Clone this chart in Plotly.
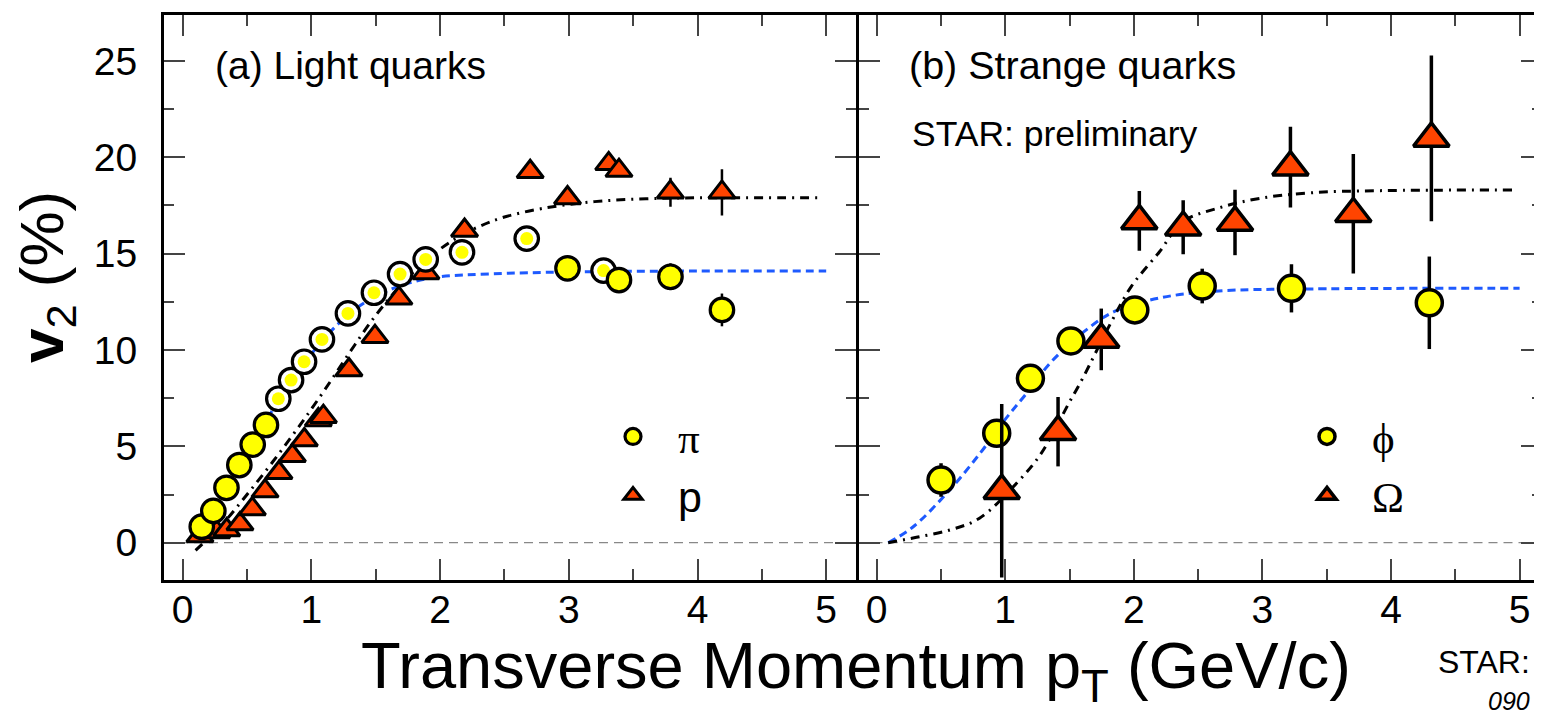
import plotly.graph_objects as go

# ---------------- data ----------------
# (a) light quarks: pions (two pion sets) and protons
pi_full_pt = [0.148, 0.238, 0.34, 0.44, 0.544, 0.647, 2.99, 3.39, 3.79, 4.19]
pi_full_v2 = [0.83, 1.65, 2.85, 4.03, 5.09, 6.11, 14.24, 13.63, 13.8, 12.08]
pi_full_err = [0, 0, 0, 0, 0, 0, 0, 0, 0.7, 0.85]

pi_ring_pt = [0.743, 0.842, 0.943, 1.082, 1.284, 1.486, 1.689, 1.888, 2.17, 2.673, 3.27]
pi_ring_v2 = [7.47, 8.44, 9.39, 10.55, 11.9, 12.97, 13.94, 14.7, 15.07, 15.78, 14.12]
pi_ring_err = [0, 0, 0, 0, 0, 0, 0, 0, 0, 0, 0.65]

p_pt = [0.134, 0.264, 0.342, 0.445, 0.541, 0.64, 0.748, 0.852, 0.945, 1.054, 1.093,
        1.292, 1.494, 1.68, 1.89, 2.19, 2.70, 2.99, 3.31, 3.39, 3.79, 4.19]
p_v2 = [0.35, 0.55, 0.66, 0.97, 1.75, 2.68, 3.63, 4.51, 5.33, 6.37, 6.54,
        8.96, 10.69, 12.68, 14.0, 16.2, 19.25, 17.89, 19.66, 19.31, 18.19, 18.18]
p_err = [0] * 20 + [0.75, 1.2]

# fit curves (a)
fit_pi_pt = [0.12, 0.2, 0.3, 0.4, 0.5, 0.6, 0.7, 0.8, 0.9, 1.0, 1.2, 1.4, 1.6, 1.8, 2.0, 2.4, 3.0, 4.0, 5.0]
fit_pi_v2 = [0.0, 1.1, 2.4, 3.6, 4.7, 5.8, 6.9, 7.9, 8.9, 9.8, 11.3, 12.4, 13.1, 13.55, 13.8, 13.95, 14.05, 14.1, 14.1]
fit_p_pt = [0.1, 0.3, 0.5, 0.7, 0.9, 1.1, 1.3, 1.5, 1.7, 1.9, 2.1, 2.3, 2.5, 2.8, 3.2, 3.6, 4.0, 4.93]
fit_p_v2 = [-0.4, 0.9, 2.5, 4.2, 6.0, 7.9, 9.9, 11.8, 13.4, 14.7, 15.7, 16.4, 16.9, 17.35, 17.7, 17.85, 17.9, 17.9]

# (b) strange quarks: phi and Omega
phi_pt = [0.501, 0.934, 1.196, 1.511, 2.008, 2.532, 3.226, 4.298]
phi_v2 = [3.25, 5.68, 8.53, 10.47, 12.08, 13.32, 13.2, 12.45]
phi_err = [0.87, 0, 0, 0, 0, 0.9, 1.25, 2.4]

om_pt = [0.973, 1.411, 1.747, 2.043, 2.384, 2.787, 3.218, 3.707, 4.314]
om_v2 = [2.7, 5.76, 10.55, 16.7, 16.37, 16.62, 19.49, 17.07, 20.98]
om_err = [4.5, 1.8, 1.6, 1.55, 1.4, 1.7, 2.1, 3.1, 4.3]

# fit curves (b)
fit_phi_pt = [0.09, 0.28, 0.55, 0.8, 1.0, 1.16, 1.36, 1.66, 1.85, 2.2, 2.63, 3.38, 5.0]
fit_phi_v2 = [0.0, 0.8, 2.6, 4.6, 6.4, 7.7, 9.4, 11.2, 12.0, 12.7, 13.05, 13.17, 13.2]
fit_om_pt = [0.09, 0.31, 0.57, 0.8, 1.1, 1.28, 1.5, 1.6, 1.82, 1.98, 2.2, 2.38, 2.65, 2.98, 3.38, 3.92, 4.95]
fit_om_v2 = [0.0, 0.28, 0.66, 1.27, 3.17, 4.64, 7.3, 8.5, 11.39, 13.29, 15.1, 16.66, 17.35, 17.87, 18.16, 18.27, 18.3]

x_ticks = [0, 1, 2, 3, 4, 5]
y_ticks = [0, 5, 10, 15, 20, 25]

# ---------------- styling / layout ----------------
SANS = "Liberation Sans, Arial, Helvetica, sans-serif"
SERIF = "Liberation Serif, Times New Roman, serif"
YELLOW = "#FFFF00"
ORANGE = "#FF4400"
BLUE = "#1E5AFF"

OFF = 8  # default page (body) margin of the html page
PAGE_W, PAGE_H = 1542, 715
W_FIG, H_FIG = PAGE_W - OFF, PAGE_H - OFF
FIG_BOTTOM = OFF + H_FIG                         # page y where the figure ends
VIS_RIGHT = 1532                                 # rightmost fully visible page column
# plot-area edges in page pixels
PL, PR, PT, PB = 164, 1542, 15, 580
PW, PH = PR - PL, PB - PT


def px2x(px):
    return (px - PL) / PW


def py2y(py):
    return (PB - py) / PH


D1 = px2x(855.5)
D2 = px2x(858.5)

fig = go.Figure()


def err(vals, w):
    return dict(type="data", array=vals, visible=True, color="black", thickness=w, width=0)


# ---- panel (a)
fig.add_trace(go.Scatter(x=fit_pi_pt, y=fit_pi_v2, mode="lines", line=dict(color=BLUE, width=3, dash="8px,5px", shape="spline"),
                         showlegend=False, xaxis="x", yaxis="y", hoverinfo="skip"))
fig.add_trace(go.Scatter(x=fit_p_pt, y=fit_p_v2, mode="lines", line=dict(color="black", width=3, dash="9px,6px,2px,6px", shape="spline"),
                         showlegend=False, xaxis="x", yaxis="y", hoverinfo="skip"))
fig.add_trace(go.Scatter(x=p_pt, y=p_v2, mode="markers", name="<span style='font-family:Liberation Sans'>p</span>",
                         marker=dict(symbol="triangle-up", size=23, color=ORANGE, line=dict(color="black", width=3)),
                         error_y=err(p_err, 2.5), xaxis="x", yaxis="y", legend="legend", legendrank=2))
fig.add_trace(go.Scatter(x=pi_ring_pt, y=pi_ring_v2, mode="markers", showlegend=False,
                         marker=dict(symbol="circle", size=23.5, color="white", line=dict(color="black", width=3.2)),
                         error_y=err(pi_ring_err, 2.5), xaxis="x", yaxis="y"))
fig.add_trace(go.Scatter(x=pi_ring_pt, y=pi_ring_v2, mode="markers", showlegend=False,
                         marker=dict(symbol="circle", size=13, color=YELLOW, line=dict(width=0)),
                         xaxis="x", yaxis="y"))
fig.add_trace(go.Scatter(x=pi_full_pt, y=pi_full_v2, mode="markers", name="π",
                         marker=dict(symbol="circle", size=23.5, color=YELLOW, line=dict(color="black", width=3.2)),
                         error_y=err(pi_full_err, 2.5), xaxis="x", yaxis="y", legend="legend", legendrank=1))

# ---- panel (b)
fig.add_trace(go.Scatter(x=fit_phi_pt, y=fit_phi_v2, mode="lines", line=dict(color=BLUE, width=3, dash="8px,5px", shape="spline"),
                         showlegend=False, xaxis="x2", yaxis="y2", hoverinfo="skip"))
fig.add_trace(go.Scatter(x=fit_om_pt, y=fit_om_v2, mode="lines", line=dict(color="black", width=3, dash="9px,6px,2px,6px", shape="spline"),
                         showlegend=False, xaxis="x2", yaxis="y2", hoverinfo="skip"))
fig.add_trace(go.Scatter(x=phi_pt, y=phi_v2, mode="markers", name="ϕ",
                         marker=dict(symbol="circle", size=26, color=YELLOW, line=dict(color="black", width=3.5)),
                         error_y=err(phi_err, 3.5), xaxis="x2", yaxis="y2", legend="legend2", legendrank=1))
fig.add_trace(go.Scatter(x=om_pt, y=om_v2, mode="markers", name="Ω",
                         marker=dict(symbol="triangle-up", size=31, color=ORANGE, line=dict(color="black", width=3.5)),
                         error_y=err(om_err, 3.5), xaxis="x2", yaxis="y2", legend="legend2", legendrank=2))

tickfont = dict(family=SANS, size=39, color="black")
common_x = dict(tickmode="array", tickvals=x_ticks, ticks="inside", ticklen=21, tickwidth=1.5, tickcolor="#444",
                minor=dict(dtick=0.5, tick0=0, ticks="inside", ticklen=11, tickwidth=1.5, tickcolor="#444"),
                showgrid=False, zeroline=False, tickfont=tickfont, ticklabelstandoff=-7)
common_y = dict(tickmode="array", tickvals=y_ticks, ticks="inside", ticklen=21, tickwidth=1.5, tickcolor="#444",
                minor=dict(dtick=2.5, tick0=0, ticks="inside", ticklen=10, tickwidth=1.5, tickcolor="#444"),
                showgrid=False, zeroline=False, tickfont=tickfont, range=[(542.7 - PB) / 19.27, (542.7 - PT) / 19.27])

fig.update_layout(
    width=W_FIG, height=H_FIG,
    margin=dict(l=PL - OFF, r=PAGE_W - PR, t=PT - OFF, b=FIG_BOTTOM - PB, pad=0),
    paper_bgcolor="white", plot_bgcolor="white",
    font=dict(family=SANS, color="black"),
    xaxis=dict(domain=[0, D1], range=[(PL - 182.7) / 128.7, (855.5 - 182.7) / 128.7], anchor="y",
               showline=True, linewidth=3, linecolor="black", mirror="ticks", **common_x),
    yaxis=dict(domain=[0, 1], anchor="x", showline=True, linewidth=3, linecolor="black", mirror="ticks",
               ticklabelstandoff=16, **common_y),
    xaxis2=dict(domain=[D2, 1], range=[(858.5 - 876.6) / 128.6, (PR - 876.6) / 128.6], anchor="y2",
                showline=True, linewidth=3, linecolor="black", mirror="ticks", **common_x),
    yaxis2=dict(domain=[0, 1], anchor="x2", showline=False, mirror="ticks", showticklabels=False, **common_y),
    legend=dict(x=px2x(588), y=py2y(402), xanchor="left", yanchor="top", bgcolor="rgba(0,0,0,0)",
                font=dict(family=SERIF, size=43, color="black"), itemwidth=80, tracegroupgap=0),
    legend2=dict(x=px2x(1282), y=py2y(402), xanchor="left", yanchor="top", bgcolor="rgba(0,0,0,0)",
                 font=dict(family=SERIF, size=43, color="black"), itemwidth=80, tracegroupgap=0),
    showlegend=True,
)

# zero reference lines
for xr, yr in (("x domain", "y"), ("x2 domain", "y2")):
    fig.add_shape(type="line", xref=xr, yref=yr, x0=0, x1=1, y0=0, y1=0, layer="below",
                  line=dict(color="#888", width=1.3, dash="9px,6px"))

ann = [
    dict(text="(a) Light quarks", x=px2x(213), y=py2y(65), xanchor="left", yanchor="middle", font=dict(size=39)),
    dict(text="(b) Strange quarks", x=px2x(907), y=py2y(65), xanchor="left", yanchor="middle", font=dict(size=39.5)),
    dict(text="STAR: preliminary", x=px2x(910), y=py2y(134), xanchor="left", yanchor="middle", font=dict(size=35.5)),
    dict(text="Transverse Momentum p<sub>T</sub> (GeV/c)", x=px2x(856), y=py2y(670), xanchor="center", yanchor="middle",
         font=dict(size=65)),
    dict(text="<b>v</b><sub>2</sub> (%)", x=px2x(46), y=py2y(277), xanchor="center", yanchor="middle", textangle=-90,
         font=dict(size=62)),
    dict(text="STAR:", x=px2x(VIS_RIGHT), y=py2y(662), xanchor="right", yanchor="middle", font=dict(size=32)),
    dict(text="<i>090</i>", x=px2x(VIS_RIGHT), y=py2y(701), xanchor="right", yanchor="middle", font=dict(size=25)),
]
for a in ann:
    a.update(xref="paper", yref="paper", showarrow=False)
    a["font"] = dict(family=SANS, color="black", **a["font"])
    fig.add_annotation(**a)

fig.write_html("out.html")
